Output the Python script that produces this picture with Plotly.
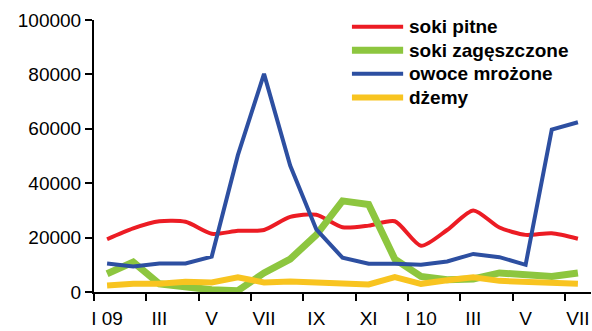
import plotly.graph_objects as go

# Month labels (Jan 2009 – Jul 2010), labelled every second month
months = ["I 09", "II", "III", "IV", "V", "VI", "VII", "VIII", "IX", "X",
          "XI", "XII", "I 10", "II", "III", "IV", "V", "VI", "VII"]
tick_labels = ["I 09", "III", "V", "VII", "IX", "XI", "I 10", "III", "V", "VII"]

soki_pitne = [19400, 23400, 26000, 25800, 21400, 22500, 22800, 27600, 28400,
              23800, 24400, 26000, 17000, 22800, 30000, 23700, 21000, 21600, 19600]
soki_zageszczone = [6700, 11000, 3000, 1800, 800, 500, 7000, 12100, 21000,
                    33500, 32200, 12100, 5700, 4500, 4800, 7000, 6200, 5700, 7000]
owoce_mrozone = [10500, 9400, 10500, 10500, 13000, 50300, 80200, 46500, 23000,
                 12600, 10400, 10400, 10000, 11200, 14000, 12800, 10000, 59700, 62400]
dzemy = [2400, 3000, 3000, 3800, 3500, 5400, 3500, 3900, 3500,
         3000, 2800, 5500, 3000, 4300, 5400, 4100, 3600, 3300, 3000]

x = list(range(len(months)))

series = [
    ("soki pitne", soki_pitne, "#ec1c24", 4, "spline"),
    ("soki zagęszczone", soki_zageszczone, "#8dc63f", 7, "linear"),
    ("owoce mrożone", owoce_mrozone, "#2d4fa1", 4, "linear"),
    ("dżemy", dzemy, "#f8c420", 6, "linear"),
]

font_family = "Liberation Sans, Arial, sans-serif"

fig = go.Figure()
for name, vals, color, width, shape in series:
    line = dict(color=color, width=width, shape=shape)
    if shape == "spline":
        line["smoothing"] = 0.7
    fig.add_trace(go.Scatter(
        x=x, y=vals, mode="lines", name=name, line=line, showlegend=False,
        customdata=months, hovertemplate="%{customdata}: %{y}<extra>" + name + "</extra>",
    ))

# Legend block in the upper right: a line sample followed by a bold label
leg_x0, leg_x1, leg_text_x = 0.519, 0.622, 0.630
leg_top, leg_step = 0.975, 0.0865
for i, (name, _, color, width, _) in enumerate(series):
    yy = leg_top - i * leg_step
    fig.add_shape(type="line", xref="paper", yref="paper",
                  x0=leg_x0, x1=leg_x1, y0=yy, y1=yy,
                  line=dict(color=color, width=width))
    fig.add_annotation(xref="paper", yref="paper", x=leg_text_x, y=yy,
                       xanchor="left", yanchor="middle", showarrow=False,
                       text="<b>" + name + "</b>",
                       font=dict(family=font_family, size=19, color="black"))

fig.update_layout(
    width=592, height=331,
    margin=dict(l=94, r=1, t=20, b=39),
    paper_bgcolor="white", plot_bgcolor="white",
    font=dict(family=font_family, size=19, color="black"),
    showlegend=False,
    xaxis=dict(
        range=[-0.5, 18.5],
        tickmode="array",
        tickvals=x[::2],
        ticktext=tick_labels,
        ticks="",
        ticklabelstandoff=8,
        showgrid=False, zeroline=False,
        showline=True, linecolor="black", linewidth=2,
        minor=dict(ticks="outside", tick0=-0.5, dtick=2, ticklen=7,
                   tickwidth=2, tickcolor="black", showgrid=False),
        tickfont=dict(size=19),
        fixedrange=True,
    ),
    yaxis=dict(
        range=[0, 100000],
        tickmode="linear", tick0=0, dtick=20000,
        tickformat="d",
        ticks="outside", ticklen=7, tickwidth=2, tickcolor="black",
        showgrid=False, zeroline=False,
        showline=True, linecolor="black", linewidth=2,
        tickfont=dict(size=19),
        fixedrange=True,
    ),
)

fig.write_html("out.html")
